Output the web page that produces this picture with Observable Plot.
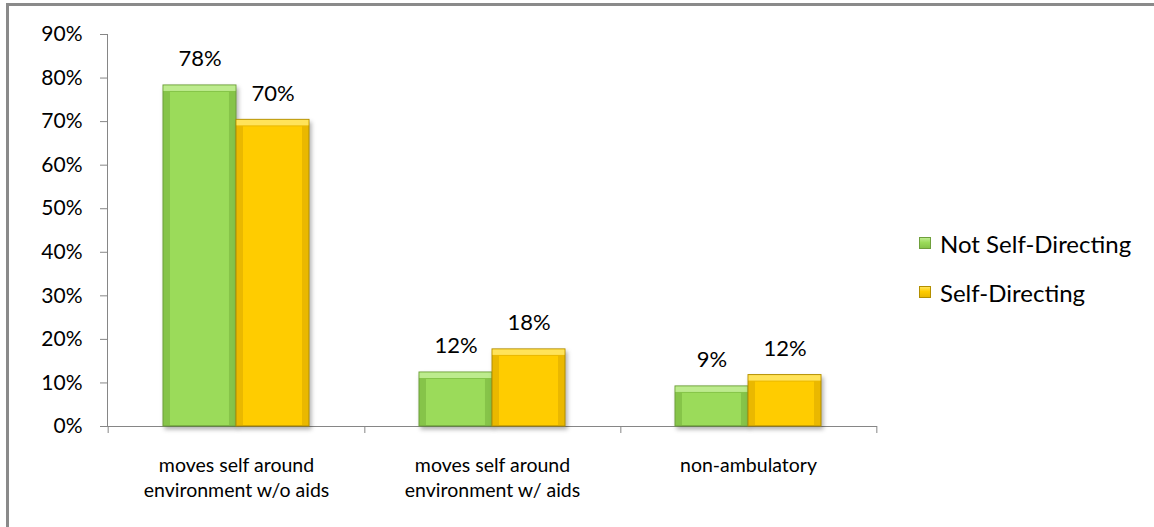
<!DOCTYPE html>
<html>
<head>
<meta charset="utf-8">
<script src="https://cdn.jsdelivr.net/npm/d3@7"></script>
<script src="https://cdn.jsdelivr.net/npm/@observablehq/plot@0.6"></script>
<style>
  html, body { margin: 0; padding: 0; background: #fff; overflow: hidden; }
  body { width: 1154px; height: 527px; position: relative; font-family: Lato, "Open Sans", sans-serif; }
  #frame { position: absolute; left: 6px; top: 3px; width: 2000px; height: 2000px;
           border-left: 3px solid #8a8a8a; border-top: 3px solid #8a8a8a; box-sizing: border-box; }
  #chart { position: absolute; left: 0; top: 0; }
  #legend { position: absolute; left: 919px; top: 228px; font-size: 24px; color: #000; }
  .item { display: flex; align-items: center; height: 30px; margin-bottom: 19px; }
  .sw { width: 12px; height: 12px; margin-right: 9px; box-sizing: border-box; }
</style>
</head>
<body>
<div id="frame"></div>
<div id="chart"></div>
<div id="legend"></div>
<script>
const categories = ["moves self around\nenvironment w/o aids", "moves self around\nenvironment w/ aids", "non-ambulatory"];
const seriesNames = ["Not Self-Directing", "Self-Directing"];
const notSelfDirecting = [0.783, 0.124, 0.092];
const selfDirecting = [0.704, 0.177, 0.118];
const yTicks = [0, 0.1, 0.2, 0.3, 0.4, 0.5, 0.6, 0.7, 0.8, 0.9];

const colors = {
  "Not Self-Directing": {main: "#9bdb5a", light: "#bdeb8e", edge: "#6f9f3c", side: "#86c449"},
  "Self-Directing": {main: "#ffcc00", light: "#ffe35a", edge: "#b38f00", side: "#eab800"}
};

const rowsNot = categories.map((c, i) => ({category: c, series: seriesNames[0], value: notSelfDirecting[i]}));
const rowsSelf = categories.map((c, i) => ({category: c, series: seriesNames[1], value: selfDirecting[i]}));

const W = 1154, H = 527, mL = 107, mR = 277, mT = 34, mB = 101;
const step = (W - mL - mR) / categories.length;
const half = step * (1 - 0.431) / 2;
const fmt = d3.format(".0%");

function barLayers(rows, left) {
  const c = colors[rows[0].series];
  const ins = left ? {insetRight: half} : {insetLeft: half};
  const insIn = left ? {insetRight: half + 7, insetLeft: 7} : {insetLeft: half + 7, insetRight: 7};
  return [
    Plot.barY(rows, {x: "category", y: "value", fill: c.side, stroke: c.edge, strokeWidth: 1, ...ins}),
    Plot.barY(rows, {x: "category", y1: 0, y2: "value", fill: c.main, insetTop: 7, insetBottom: 1, ...insIn}),
    Plot.barY(rows, {x: "category", y1: "value", y2: "value", fill: c.light, insetBottom: -6, insetTop: 0.5, ...(left ? {insetRight: half + 0.5, insetLeft: 0.5} : {insetLeft: half + 0.5, insetRight: 0.5})}),
    Plot.text(rows, {x: "category", y: "value", text: d => fmt(d.value), dx: left ? -half / 2 : half / 2, dy: -19, lineAnchor: "bottom", fontSize: 22, fill: "#000"})
  ];
}

const chart = Plot.plot({
  width: W, height: H,
  marginLeft: mL, marginRight: mR, marginTop: mT, marginBottom: mB,
  style: {fontFamily: "Lato, 'Open Sans', sans-serif", background: "transparent", overflow: "visible"},
  x: {domain: categories, paddingInner: 0.431, paddingOuter: 0.2155, axis: null, label: null},
  y: {domain: [0, 0.9], axis: null, label: null},
  marks: [
    Plot.axisY({ticks: yTicks, tickFormat: fmt, tickSize: 7, tickPadding: 18, fontSize: 21, stroke: "#868686", fill: "#000", label: null}),
    Plot.frame({anchor: "left", stroke: "#868686"}),
    Plot.ruleY([0], {stroke: "#868686"}),
    Plot.ruleX(categories.slice(0, 1), {x: d => d, dx: -step / 2, y1: 0, y2: 0, insetBottom: -7, stroke: "#868686"}),
    Plot.ruleX(categories, {x: d => d, dx: step / 2, y1: 0, y2: 0, insetBottom: -7, stroke: "#868686"}),
    Plot.axisX({tickSize: 0, tickPadding: 28, fontSize: 19.5, lineHeight: 1.28, fill: "#000", label: null}),
    ...barLayers(rowsNot, true),
    ...barLayers(rowsSelf, false)
  ]
});
document.getElementById("chart").append(chart);

// soft drop shadow under the outer bar layers
chart.querySelectorAll('g[aria-label="bar"]').forEach((g, i) => {
  if (i === 0 || i === 3) g.style.filter = "drop-shadow(2px 3px 2px rgba(0,0,0,0.3))";
});

const legend = document.getElementById("legend");
seriesNames.forEach(name => {
  const c = colors[name];
  const item = document.createElement("div");
  item.className = "item";
  const sw = document.createElement("div");
  sw.className = "sw";
  sw.style.background = `linear-gradient(${c.light}, ${c.main} 45%, ${c.side})`;
  sw.style.border = `1px solid ${c.edge}`;
  const label = document.createElement("span");
  label.textContent = name;
  item.append(sw, label);
  legend.append(item);
});
</script>
</body>
</html>
